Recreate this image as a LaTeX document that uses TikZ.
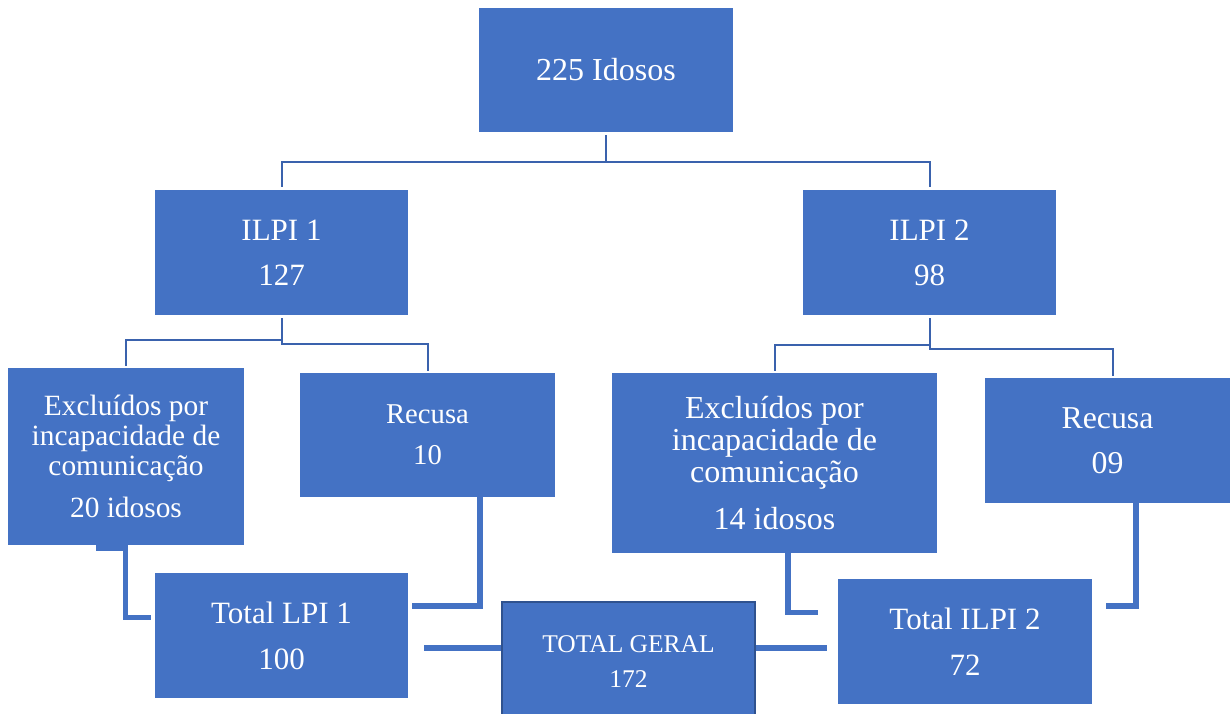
\documentclass[tikz,border=0pt]{standalone}
\usepackage{fontspec}
\setmainfont{Liberation Serif}
\usetikzlibrary{calc}
\definecolor{boxblue}{HTML}{4472C4}
\definecolor{lineblue}{HTML}{3A62AD}
\definecolor{edgeblue}{HTML}{2F528F}
\tikzset{>=latex,
  box/.style={fill=boxblue,text=white,align=center,inner sep=0pt,
    minimum width=253pt,minimum height=125pt},
  thinlink/.style={draw=lineblue,line width=2pt,shorten <=3pt,shorten >=2pt},
  thicklink/.style={draw=boxblue,line width=5.5pt}}

\begin{document}
\begin{tikzpicture}[x=1pt,y=-1pt]
\useasboundingbox (0,0) rectangle (1230,713);
\clip (0,0) rectangle (1230,713);
% boxes
\node[box,minimum width=254pt,minimum height=124pt,font=\fontsize{32}{40}\selectfont] (idosos) at (606,70) {225 Idosos};
\node[box,font=\fontsize{31}{45}\selectfont] (ilpi1) at (281.5,252.5) {ILPI 1\\127};
\node[box,font=\fontsize{31}{45}\selectfont] (ilpi2) at (929.5,252.5) {ILPI 2\\98};
\node[box,minimum width=236pt,minimum height=177pt,font=\fontsize{29.4}{30}\selectfont] (exc1) at (126,456.5)
  {Excluídos por\\incapacidade de\\comunicação\\[12pt]20 idosos};
\node[box,minimum width=255pt,minimum height=124pt,font=\fontsize{28.7}{41}\selectfont] (rec1) at (427.5,435) {Recusa\\10};
\node[box,minimum width=325pt,minimum height=180pt,font=\fontsize{32}{32}\selectfont] (exc2) at (774.5,463)
  {Excluídos por\\incapacidade de\\comunicação\\[15pt]14 idosos};
\node[box,minimum width=245pt,font=\fontsize{31.8}{45}\selectfont] (rec2) at (1107.5,440.5) {Recusa\\09};
\node[box,font=\fontsize{31}{46}\selectfont] (tot1) at (281.5,635.5) {Total LPI 1\\100};
\node[box,draw=edgeblue,line width=2pt,minimum height=120pt,font=\fontsize{25.5}{35}\selectfont] (totg) at (628.5,662) {TOTAL GERAL\\172};
\node[box,minimum width=254pt,font=\fontsize{31}{46}\selectfont] (tot2) at (965,641.5) {Total ILPI 2\\72};
% tree lines
\draw[thinlink,shorten >=0pt] (idosos.south) -- ++(0,30) coordinate (bus);
\draw[thinlink,shorten <=0pt,shorten >=3pt] (bus) -| (ilpi1.north);
\draw[thinlink,shorten <=0pt,shorten >=3pt] (bus) -| (ilpi2.north);
\draw[thinlink] (ilpi1.south) -- ++(0,25) -| (exc1.north);
\draw[thinlink] (ilpi1.south) -- ++(0,29) -| (rec1.north);
\draw[thinlink] (ilpi2.south) -- ++(0,30) -| (exc2.north);
\draw[thinlink] (ilpi2.south) -- ++(0,34) -| ([xshift=5.5pt]rec2.north);
% totals
\draw[thicklink] ([xshift=-30pt,yshift=-3pt]exc1.south) -- ++(29.5,0) |- ([xshift=-4pt,yshift=18pt]tot1.west);
\draw[thicklink] ([xshift=52.5pt]rec1.south) |- ([xshift=4pt,yshift=29.5pt]tot1.east);
\draw[thicklink] ([xshift=16pt,yshift=-12.5pt]tot1.east) coordinate (t1o) -- (t1o -| totg.west);
\draw[thicklink] (t1o -| totg.east) -- ($(t1o -| tot2.west)+(-11,0)$);
\draw[thicklink] ([xshift=13.5pt]exc2.south) |- ([xshift=-20pt,yshift=29pt]tot2.west);
\draw[thicklink] ([xshift=28.5pt]rec2.south) |- ([xshift=14pt,yshift=35.5pt]tot2.east);
\end{tikzpicture}
\end{document}
